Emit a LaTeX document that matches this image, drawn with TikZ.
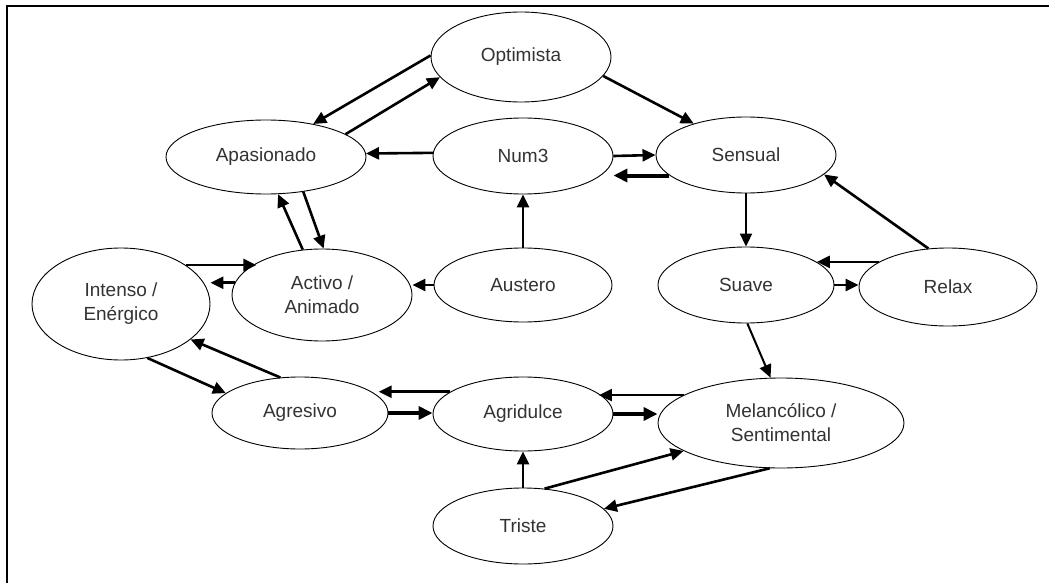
\documentclass[tikz,border=0pt]{standalone}
\usepackage{fontspec}
\setmainfont{Liberation Sans}
\usetikzlibrary{arrows.meta,shapes.geometric}
\begin{document}
\begin{tikzpicture}[x=1pt,y=-1pt,
  state/.style 2 args={ellipse, draw=black, line width=0.9pt, inner sep=0pt,
    align=center, text=black!80, minimum width=#1pt, minimum height=#2pt,
    font=\fontsize{19}{24}\selectfont},
  link/.style={line width=2.6pt, -{Triangle[length=13pt,width=12pt]}},
  thinlink/.style={line width=2pt, -{Triangle[length=13pt,width=12pt]}},
  heavylink/.style={line width=4pt, -{Triangle[length=14pt,width=13pt]}}]
\useasboundingbox (0,0) rectangle (1049,583);
\fill[white] (0,0) rectangle (1049,583);

% frame
\draw[line width=2pt] (7,583) -- (7,6) -- (1049,6);

% moods
\node[state={180}{90}]  (opt) at (521,57)  {Optimista};
\node[state={200}{74}]  (apa) at (266,157) {Apasionado};
\node[state={180}{76}]  (num) at (523,156) {Num3};
\node[state={180}{76}]  (sen) at (746,155) {Sensual};
\node[state={178}{112}] (int) at (121,304) {Intenso /\\Enérgico};
\node[state={180}{92}]  (act) at (322,295) {Activo /\\Animado};
\node[state={178}{74}]  (aus) at (523,285) {Austero};
\node[state={176}{76}]  (sua) at (746,285) {Suave};
\node[state={178}{78}]  (rel) at (948,287) {Relax};
\node[state={176}{72}]  (agr) at (300,413) {Agresivo};
\node[state={180}{74}]  (dul) at (523,414) {Agridulce};
\node[state={246}{90}]  (mel) at (781,423) {Melancólico /\\Sentimental};
\node[state={180}{76}]  (tri) at (523,526) {Triste};

% transitions
\draw[link] (opt.179) -- (apa.35);
\draw[link] (apa.16) -- (opt.194);
\draw[link] (opt.-13) -- (sen.149);

\draw[link] (num.178) -- (apa.2);
\draw[link] (num.east) -- (sen.west);
\draw[heavylink] (sen.195) -- (sen.195 -| num.east);
\draw[link] (aus.north) -- (num.south);
\draw[link] (aus.west) -- (aus.west -| act.east);

\draw[link] (act.113) -- (apa.288);
\draw[link] (apa.-43) -- (act.88);
\draw[link] (int.31) -- (int.31 -| act.154);
\draw[link] (act.172) -- (act.172 -| int.east);
\draw[link] (int.296) -- (agr.165);
\draw[link] (agr.119) -- (int.333);

\draw[link] (dul.163) -- (dul.163 -| agr.12);
\draw[heavylink] (agr.east) -- (agr.east -| dul.west);
\draw[link] (mel.164) -- (mel.164 -| dul.15);
\draw[heavylink] (dul.east) -- (dul.east -| mel.west);
\draw[link] (tri.north) -- (dul.south);
\draw[link] (tri.60) -- (mel.196);
\draw[link] (mel.256) -- (tri.12);

\draw[thinlink] (sen.south) -- (sua.north);
\draw[link] (rel.117) -- (sen.346);
\draw[link] (rel.160) -- (rel.160 -| sua.18);
\draw[link] (sua.east) -- (sua.east -| rel.west);
\draw[thinlink] (sua.-88) -- (mel.103);
\end{tikzpicture}
\end{document}
